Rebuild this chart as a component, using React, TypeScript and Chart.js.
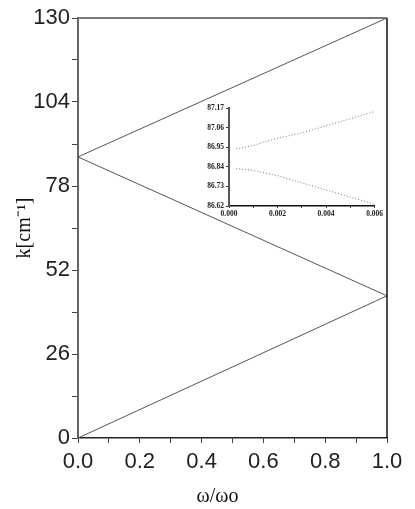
import React, { useEffect, useRef } from "react";
import { Chart, registerables } from "chart.js";
Chart.register(...registerables);

// ---- main chart data ----
const omegaRatio = [0, 1];
const lowerBranchK = [0, 44];
const upperBranchK = [87, 130];
const middleBranchK = [87, 44];

const xTicks = [0, 0.1, 0.2, 0.3, 0.4, 0.5, 0.6, 0.7, 0.8, 0.9, 1.0];
const xLabelTicks = [0, 0.2, 0.4, 0.6, 0.8, 1.0];
const yTicks = [0, 13, 26, 39, 52, 65, 78, 91, 104, 117, 130];
const yLabelTicks = [0, 26, 52, 78, 104, 130];

// ---- inset data ----
const insetOmega = [0.0003, 0.001, 0.002, 0.003, 0.004, 0.005, 0.006];
const insetUpperK = [86.94, 86.96, 87.0, 87.03, 87.07, 87.11, 87.15];
const insetLowerK = [86.83, 86.82, 86.79, 86.75, 86.71, 86.67, 86.63];
const insetXTicks = [0, 0.001, 0.002, 0.003, 0.004, 0.005, 0.006];
const insetXLabelTicks = [0, 0.002, 0.004, 0.006];
const insetYTicks = [86.62, 86.73, 86.84, 86.95, 87.06, 87.17];

const xTitle = "ω/ωo";
const yTitle = "k[cm⁻¹]";

const W = 415;
const H = 509;

const pts = (xs: number[], ys: number[]) => xs.map((x, i) => ({ x, y: ys[i] }));
const near = (arr: number[], v: number) => arr.some((a) => Math.abs(a - v) < 1e-9);

const framePlugin = {
  id: "frame",
  afterDraw(chart: any) {
    const { ctx, chartArea } = chart;
    const { left, right, top, bottom } = chartArea;
    ctx.save();
    ctx.strokeStyle = "#777";
    ctx.lineWidth = 2;
    ctx.beginPath();
    ctx.moveTo(left, top);
    ctx.lineTo(right, top);
    ctx.stroke();
    ctx.strokeStyle = "#111";
    ctx.lineWidth = 1.5;
    ctx.beginPath();
    ctx.moveTo(right, top);
    ctx.lineTo(right, bottom);
    ctx.stroke();
    ctx.restore();
  },
};

export default function App() {
  const mainRef = useRef<HTMLCanvasElement>(null);
  const insetRef = useRef<HTMLCanvasElement>(null);

  useEffect(() => {
    const lineDs = (data: any[]) => ({
      data,
      showLine: true,
      borderColor: "#555",
      borderWidth: 1,
      pointRadius: 0,
      fill: false,
    });
    const main = new Chart(mainRef.current!, {
      type: "scatter",
      data: {
        datasets: [
          lineDs(pts(omegaRatio, lowerBranchK)),
          lineDs(pts(omegaRatio, upperBranchK)),
          lineDs(pts(omegaRatio, middleBranchK)),
        ],
      },
      options: {
        responsive: false,
        animation: false,
        devicePixelRatio: 1,
        layout: { padding: { top: 18, right: 28, left: 0, bottom: 0 } },
        plugins: { legend: { display: false }, tooltip: { enabled: false } },
        scales: {
          x: {
            type: "linear",
            min: 0,
            max: 1,
            afterBuildTicks: (s: any) => {
              s.ticks = xTicks.map((v) => ({ value: v }));
            },
            afterFit: (s: any) => {
              s.height = H - 438;
            },
            grid: { drawOnChartArea: false, drawTicks: true, tickLength: 5, tickColor: "#444", tickWidth: 1 },
            border: { display: true, color: "#222", width: 1.5 },
            ticks: {
              autoSkip: false,
              maxRotation: 0,
              padding: 6,
              color: "#222",
              font: { family: "'Liberation Sans', Arial, sans-serif", size: 22 },
              callback: (v: any) => (near(xLabelTicks, v) ? Number(v).toFixed(1) : ""),
            },
            title: {
              display: true,
              text: xTitle + "      ",
              color: "#111",
              padding: { top: 0, bottom: 0 },
              font: { family: "'Liberation Serif', 'Times New Roman', serif", size: 20 },
            },
          },
          y: {
            type: "linear",
            min: 0,
            max: 130,
            afterBuildTicks: (s: any) => {
              s.ticks = yTicks.map((v) => ({ value: v }));
            },
            afterFit: (s: any) => {
              s.width = 78;
            },
            grid: { drawOnChartArea: false, drawTicks: true, tickLength: 6, tickColor: "#444", tickWidth: 1 },
            border: { display: true, color: "#666", width: 2 },
            ticks: {
              autoSkip: false,
              padding: 2,
              color: "#222",
              font: { family: "'Liberation Sans', Arial, sans-serif", size: 22 },
              callback: (v: any) => (near(yLabelTicks, v) ? String(v) : ""),
            },
            title: {
              display: true,
              text: yTitle,
              color: "#111",
              padding: { top: 13, bottom: 0 },
              font: { family: "'Liberation Serif', 'Times New Roman', serif", size: 20 },
            },
          },
        },
      },
      plugins: [framePlugin],
    } as any);

    const dotted = (data: any[]) => ({
      data,
      showLine: true,
      borderColor: "#777",
      borderWidth: 1,
      borderDash: [1, 2],
      pointRadius: 0,
      fill: false,
    });
    const insetFont = { family: "'Liberation Serif', 'Times New Roman', serif", size: 7.5, weight: "bold" as const };
    const inset = new Chart(insetRef.current!, {
      type: "scatter",
      data: {
        datasets: [dotted(pts(insetOmega, insetUpperK)), dotted(pts(insetOmega, insetLowerK))],
      },
      options: {
        responsive: false,
        animation: false,
        devicePixelRatio: 1,
        layout: { padding: { top: 8, right: 9, left: 0, bottom: 0 } },
        plugins: { legend: { display: false }, tooltip: { enabled: false } },
        scales: {
          x: {
            type: "linear",
            min: 0,
            max: 0.006,
            afterBuildTicks: (s: any) => {
              s.ticks = insetXTicks.map((v) => ({ value: v }));
            },
            afterFit: (s: any) => {
              s.height = 16;
            },
            grid: { drawOnChartArea: false, drawTicks: true, tickLength: 2, tickColor: "#333" },
            border: { display: true, color: "#111", width: 1.5 },
            ticks: {
              autoSkip: false,
              maxRotation: 0,
              padding: 2,
              color: "#222",
              font: insetFont,
              callback: (v: any) => (near(insetXLabelTicks, v) ? Number(v).toFixed(3) : ""),
            },
          },
          y: {
            type: "linear",
            min: 86.62,
            max: 87.17,
            afterBuildTicks: (s: any) => {
              s.ticks = insetYTicks.map((v) => ({ value: v }));
            },
            afterFit: (s: any) => {
              s.width = 34;
            },
            grid: { drawOnChartArea: false, drawTicks: true, tickLength: 3, tickColor: "#333" },
            border: { display: true, color: "#555", width: 2 },
            ticks: {
              autoSkip: false,
              padding: 2,
              color: "#222",
              font: insetFont,
              callback: (v: any) => Number(v).toFixed(2),
            },
          },
        },
      },
    } as any);

    return () => {
      main.destroy();
      inset.destroy();
    };
  }, []);

  return (
    <div style={{ position: "absolute", left: 0, top: 0, width: W, height: H, background: "#fff" }}>
      <canvas ref={mainRef} width={W} height={H} style={{ position: "absolute", left: 0, top: 0, width: W, height: H }} />
      <canvas ref={insetRef} width={190} height={122} style={{ position: "absolute", left: 195, top: 100, width: 190, height: 122 }} />
    </div>
  );
}
